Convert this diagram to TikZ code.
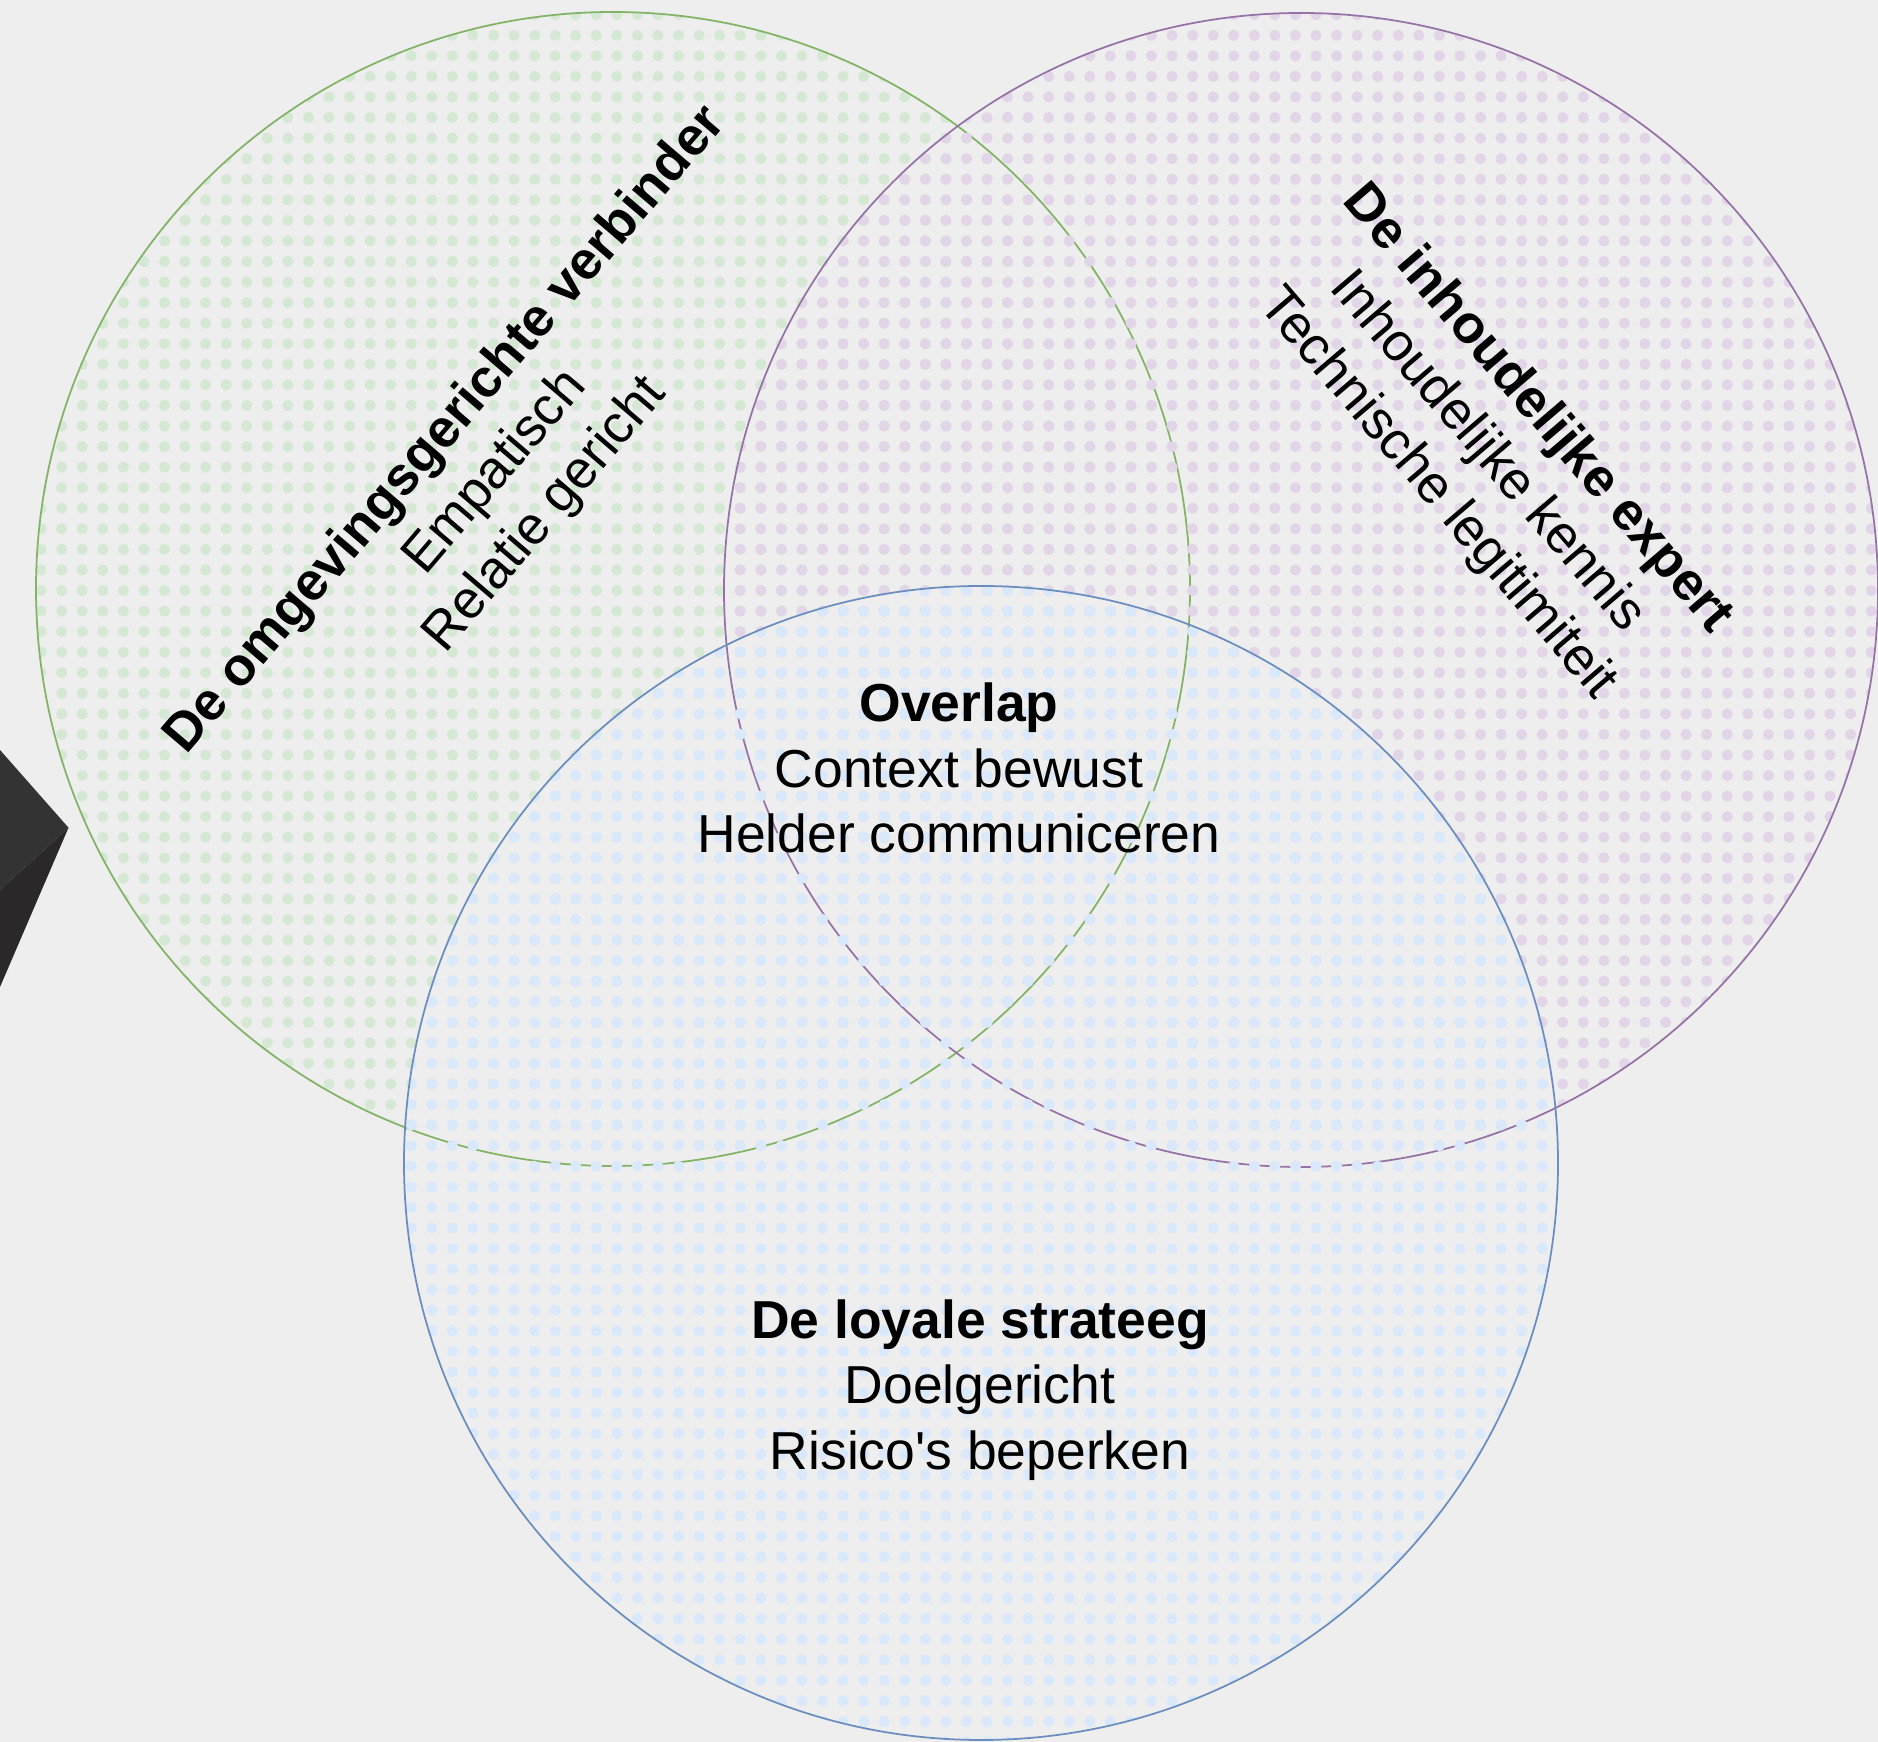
\documentclass[tikz,border=0pt]{standalone}
\usepackage{fontspec}
\setmainfont{Liberation Sans}[Ligatures=TeXOff]
\usepackage{tikz}
\usetikzlibrary{positioning,patterns.meta}

\definecolor{bgGray}{HTML}{EEEEEE}
\definecolor{dotGreen}{HTML}{D5E8D4}
\definecolor{lineGreen}{HTML}{82B366}
\definecolor{dotPurple}{HTML}{E1D5E7}
\definecolor{linePurple}{HTML}{9673A6}
\definecolor{dotBlue}{HTML}{DAE8FC}
\definecolor{lineBlue}{HTML}{6C8EBF}
\definecolor{darkTop}{HTML}{333333}
\definecolor{darkBot}{HTML}{2A2828}

% dotted fill as used for the three sets
\tikzdeclarepattern{
  name=setdots,
  type=uncolored,
  bounding box={(-0.10275cm,-0.10275cm) and (0.10275cm,0.10275cm)},
  tile size={(0.2055cm,0.2055cm)},
  code={\fill (0,0) circle (0.056cm);}
}

\begin{document}
\begin{tikzpicture}[x=0.01cm, y=0.01cm,
    setline/.style={line width=0.5pt},
    vennText/.style={align=center, text=black, inner sep=0pt,
      font=\fontsize{15.2}{18.6}\selectfont}]
        % Canvas
        \fill[bgGray] (0,0) rectangle (1878,1742);
        \useasboundingbox (0,0) rectangle (1878,1742);

        % Centres of the three sets
        \coordinate (G) at (613,1153); % green, top left
        \coordinate (P) at (1301,1152); % purple, top right
        \coordinate (B) at (981,579);  % blue, bottom

        % Dark shape at the left edge
        \fill[darkTop] (0,992) -- (68.5,914.3) -- (0,852) -- cycle;
        \fill[darkBot] (0,852) -- (68.5,914.3) -- (0,755) -- cycle;

        % --- Sets ---
        \fill[pattern=setdots, pattern color=dotGreen] (G) circle (577);
        \draw[setline, lineGreen] (G) circle (577);

        \fill[pattern=setdots, pattern color=dotPurple] (P) circle (577);
        \draw[setline, linePurple] (P) circle (577);

        \fill[pattern=setdots, pattern color=dotBlue] (B) circle (577);
        \draw[setline, lineBlue] (B) circle (577);

        % --- Labels ---
        \node[vennText, rotate=49.5] (verbinder) at (496,1269)
            {\textbf{De omgevingsgerichte verbinder}\\Empatisch\\Relatie gericht};
        \node[vennText, rotate=-49.5] (expert) at (1487,1290)
            {\textbf{De inhoudelijke expert}\\Inhoudelijke kennis\\Technische legitimiteit};
        \node[vennText] (overlap) at (959,974)
            {\textbf{Overlap}\\Context bewust\\Helder communiceren};
        \node[vennText] (strateeg) at (980,352)
            {\textbf{De loyale strateeg}\\Doelgericht\\Risico's beperken};

    \end{tikzpicture}
\end{document}
